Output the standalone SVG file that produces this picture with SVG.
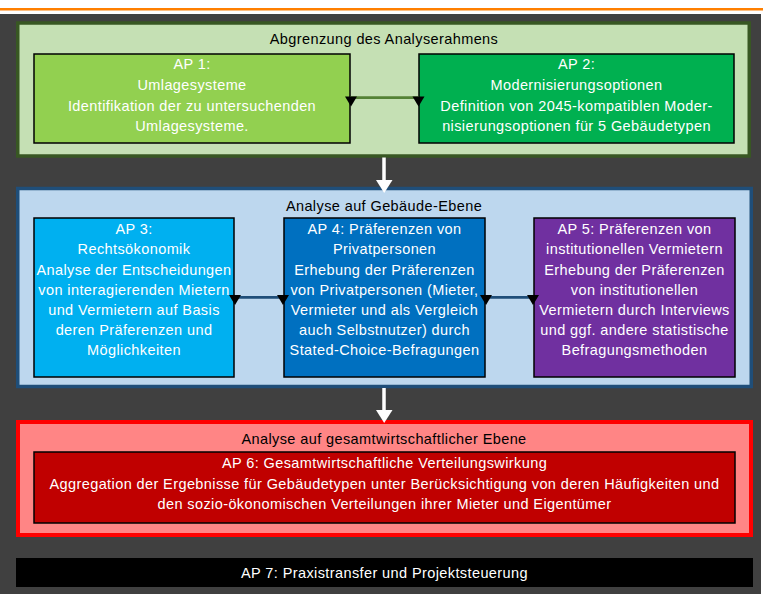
<svg xmlns="http://www.w3.org/2000/svg" width="763" height="594" viewBox="0 0 763 594">
<style>
text{font-family:"Liberation Sans",Arial,sans-serif;text-anchor:middle}
.t{font-size:14.5px;fill:#000;letter-spacing:0.4px}
.w{font-size:14.5px;fill:#fff;letter-spacing:0.4px}
.box{stroke:#000;stroke-width:1.5}
</style>
<defs>
<polygon id="tri" points="-6,0 6,0 0,10" fill="#000"/>
</defs>
<rect x="0" y="0" width="763" height="594" fill="#fff"/>
<rect x="0" y="8" width="763" height="2.5" fill="#FF7F00"/>
<rect x="0" y="14" width="761" height="580" fill="#404040"/>

<g id="frame-green">
<rect x="17.75" y="23" width="731.5" height="133" fill="#C5E0B4" stroke="#385723" stroke-width="3.5"/>
<text class="t" x="384" y="43.5">Abgrenzung des Analyserahmens</text>
</g>
<g id="frame-blue">
<rect x="17.75" y="188.5" width="733.5" height="198" fill="#BDD7EE" stroke="#1F4E79" stroke-width="3.5"/>
<text class="t" x="384" y="211">Analyse auf Gebäude-Ebene</text>
</g>
<g id="frame-red">
<rect x="18" y="422" width="733" height="113" fill="#FF8585" stroke="#FF0000" stroke-width="4"/>
<text class="t" x="384" y="443.5">Analyse auf gesamtwirtschaftlicher Ebene</text>
</g>

<g id="ap1">
<rect class="box" x="34" y="54" width="316" height="89" fill="#92D050"/>
<text class="w" x="192" y="69">AP 1:</text>
<text class="w" x="192" y="90">Umlagesysteme</text>
<text class="w" x="192" y="110.5">Identifikation der zu untersuchenden</text>
<text class="w" x="192" y="131">Umlagesysteme.</text>
</g>
<g id="ap2">
<rect class="box" x="419" y="54" width="315" height="89" fill="#00B050"/>
<text class="w" x="576.5" y="69">AP 2:</text>
<text class="w" x="576.5" y="90">Modernisierungsoptionen</text>
<text class="w" x="576.5" y="110.5">Definition von 2045-kompatiblen Moder-</text>
<text class="w" x="576.5" y="131">nisierungsoptionen für 5 Gebäudetypen</text>
</g>
<g id="ap3">
<rect class="box" x="34" y="218" width="200" height="159" fill="#00B0F0"/>
<text class="w" x="134" y="234">AP 3:</text>
<text class="w" x="134" y="254">Rechtsökonomik</text>
<text class="w" x="134" y="274.5">Analyse der Entscheidungen</text>
<text class="w" x="134" y="295">von interagierenden Mietern</text>
<text class="w" x="134" y="315">und Vermietern auf Basis</text>
<text class="w" x="134" y="335">deren Präferenzen und</text>
<text class="w" x="134" y="355">Möglichkeiten</text>
</g>
<g id="ap4">
<rect class="box" x="284" y="218" width="201" height="159" fill="#0070C0"/>
<text class="w" x="384.5" y="234">AP 4: Präferenzen von</text>
<text class="w" x="384.5" y="254">Privatpersonen</text>
<text class="w" x="384.5" y="274.5">Erhebung der Präferenzen</text>
<text class="w" x="384.5" y="295">von Privatpersonen (Mieter,</text>
<text class="w" x="384.5" y="315">Vermieter und als Vergleich</text>
<text class="w" x="384.5" y="335">auch Selbstnutzer) durch</text>
<text class="w" x="384.5" y="355">Stated-Choice-Befragungen</text>
</g>
<g id="ap5">
<rect class="box" x="534" y="218" width="201" height="159" fill="#7030A0"/>
<text class="w" x="634.5" y="234">AP 5: Präferenzen von</text>
<text class="w" x="634.5" y="254">institutionellen Vermietern</text>
<text class="w" x="634.5" y="274.5">Erhebung der Präferenzen</text>
<text class="w" x="634.5" y="295">von institutionellen</text>
<text class="w" x="634.5" y="315">Vermietern durch Interviews</text>
<text class="w" x="634.5" y="335">und ggf. andere statistische</text>
<text class="w" x="634.5" y="355">Befragungsmethoden</text>
</g>
<g id="ap6">
<rect class="box" x="34" y="452" width="701" height="71" fill="#C00000"/>
<text class="w" x="384.5" y="468">AP 6: Gesamtwirtschaftliche Verteilungswirkung</text>
<text class="w" x="384.5" y="488.5">Aggregation der Ergebnisse für Gebäudetypen unter Berücksichtigung von deren Häufigkeiten und</text>
<text class="w" x="384.5" y="509">den sozio-ökonomischen Verteilungen ihrer Mieter und Eigentümer</text>
</g>
<g id="ap7">
<rect x="16" y="558" width="737" height="29" fill="#000"/>
<text class="w" x="384.5" y="578">AP 7: Praxistransfer und Projektsteuerung</text>
</g>

<g id="connectors">
<line x1="350" y1="97.7" x2="419" y2="97.7" stroke="#548235" stroke-width="2.8"/>
<use href="#tri" x="351" y="96.5"/>
<use href="#tri" x="418.5" y="96.5"/>
<line x1="234" y1="297.3" x2="284" y2="297.3" stroke="#1F4E79" stroke-width="2.8"/>
<use href="#tri" x="235" y="295"/>
<use href="#tri" x="283" y="295"/>
<line x1="485" y1="297.3" x2="534" y2="297.3" stroke="#1F4E79" stroke-width="2.8"/>
<use href="#tri" x="486" y="295"/>
<use href="#tri" x="533" y="295"/>
<line x1="384" y1="157.5" x2="384" y2="181" stroke="#fff" stroke-width="3.5"/>
<polygon points="376,180 392.5,180 384.2,193" fill="#fff"/>
<line x1="384" y1="388" x2="384" y2="411" stroke="#fff" stroke-width="3.5"/>
<polygon points="376,410 392.5,410 384.2,423" fill="#fff"/>
</g>
</svg>
